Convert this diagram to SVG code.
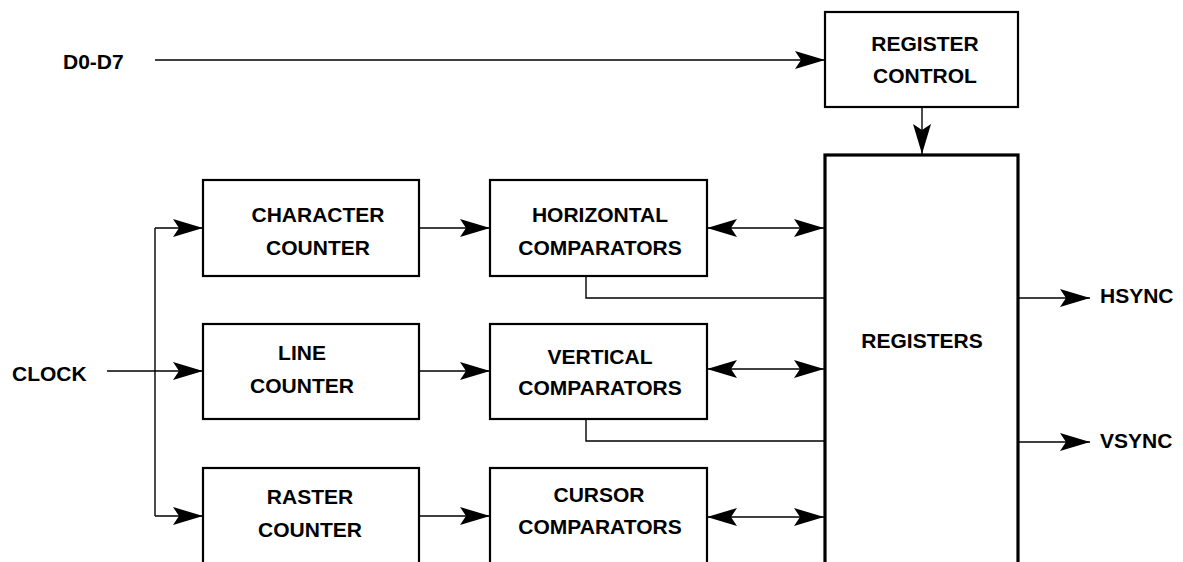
<svg xmlns="http://www.w3.org/2000/svg" width="1183" height="562" viewBox="0 0 1183 562">
<style>
.box{fill:#fff;stroke:#000;stroke-width:2.2}
.reg{fill:#fff;stroke:#000;stroke-width:3.2}
.t{font-family:"Liberation Sans",Arial,sans-serif;font-weight:bold;font-size:21px;fill:#000;text-anchor:middle}
.l{font-family:"Liberation Sans",Arial,sans-serif;font-weight:bold;font-size:21px;fill:#000}
.c{fill:none;stroke:#000;stroke-width:1.4}
.a{marker-end:url(#ah)}
.b{marker-end:url(#ah);marker-start:url(#ah)}
</style>
<defs>
<marker id="ah" markerUnits="userSpaceOnUse" markerWidth="30" markerHeight="18" viewBox="0 0 30 18" refX="30" refY="9" orient="auto-start-reverse">
<path d="M0,0 L30,9 L0,18 L6,9 Z" fill="#000"/>
</marker>
</defs>
<rect width="1183" height="562" fill="#fff"/>
<g id="connectors">
<path class="c a" d="M155,60 H825"/>
<path class="c a" d="M922,107 V154"/>
<path class="c" d="M155,228 V516"/>
<path class="c a" d="M107,371 H203"/>
<path class="c a" d="M155,228 H203"/>
<path class="c a" d="M155,516 H203"/>
<path class="c a" d="M419,228 H490"/>
<path class="c a" d="M419,371 H490"/>
<path class="c a" d="M419,516 H490"/>
<path class="c b" d="M707,228 H824"/>
<path class="c b" d="M707,369 H824"/>
<path class="c b" d="M707,517 H824"/>
<path class="c" d="M586,276 V298 H825"/>
<path class="c" d="M586,419 V441 H825"/>
<path class="c a" d="M1018,298 H1090"/>
<path class="c a" d="M1018,442 H1090"/>
</g>
<g id="d0d7"><text class="l" x="63" y="69">D0-D7</text></g>
<g id="clock"><text class="l" x="12" y="381">CLOCK</text></g>
<g id="hsync"><text class="l" x="1100" y="303">HSYNC</text></g>
<g id="vsync"><text class="l" x="1100" y="448">VSYNC</text></g>
<g id="register-control"><rect class="box" x="825" y="12" width="193" height="95"/><text class="t" x="925" y="51">REGISTER</text><text class="t" x="925" y="83">CONTROL</text></g>
<g id="registers"><rect class="reg" x="825" y="155" width="193" height="450"/><text class="t" x="922" y="348">REGISTERS</text></g>
<g id="character-counter"><rect class="box" x="203" y="180" width="216" height="96"/><text class="t" x="318" y="222">CHARACTER</text><text class="t" x="318" y="255">COUNTER</text></g>
<g id="line-counter"><rect class="box" x="203" y="324" width="216" height="95"/><text class="t" x="302" y="360">LINE</text><text class="t" x="302" y="393">COUNTER</text></g>
<g id="raster-counter"><rect class="box" x="203" y="468" width="216" height="130"/><text class="t" x="310" y="504">RASTER</text><text class="t" x="310" y="537">COUNTER</text></g>
<g id="horizontal-comparators"><rect class="box" x="490" y="180" width="217" height="96"/><text class="t" x="600" y="222">HORIZONTAL</text><text class="t" x="600" y="255">COMPARATORS</text></g>
<g id="vertical-comparators"><rect class="box" x="490" y="324" width="217" height="95"/><text class="t" x="600" y="364">VERTICAL</text><text class="t" x="600" y="395">COMPARATORS</text></g>
<g id="cursor-comparators"><rect class="box" x="490" y="468" width="217" height="130"/><text class="t" x="599" y="502">CURSOR</text><text class="t" x="600" y="534">COMPARATORS</text></g>
</svg>
